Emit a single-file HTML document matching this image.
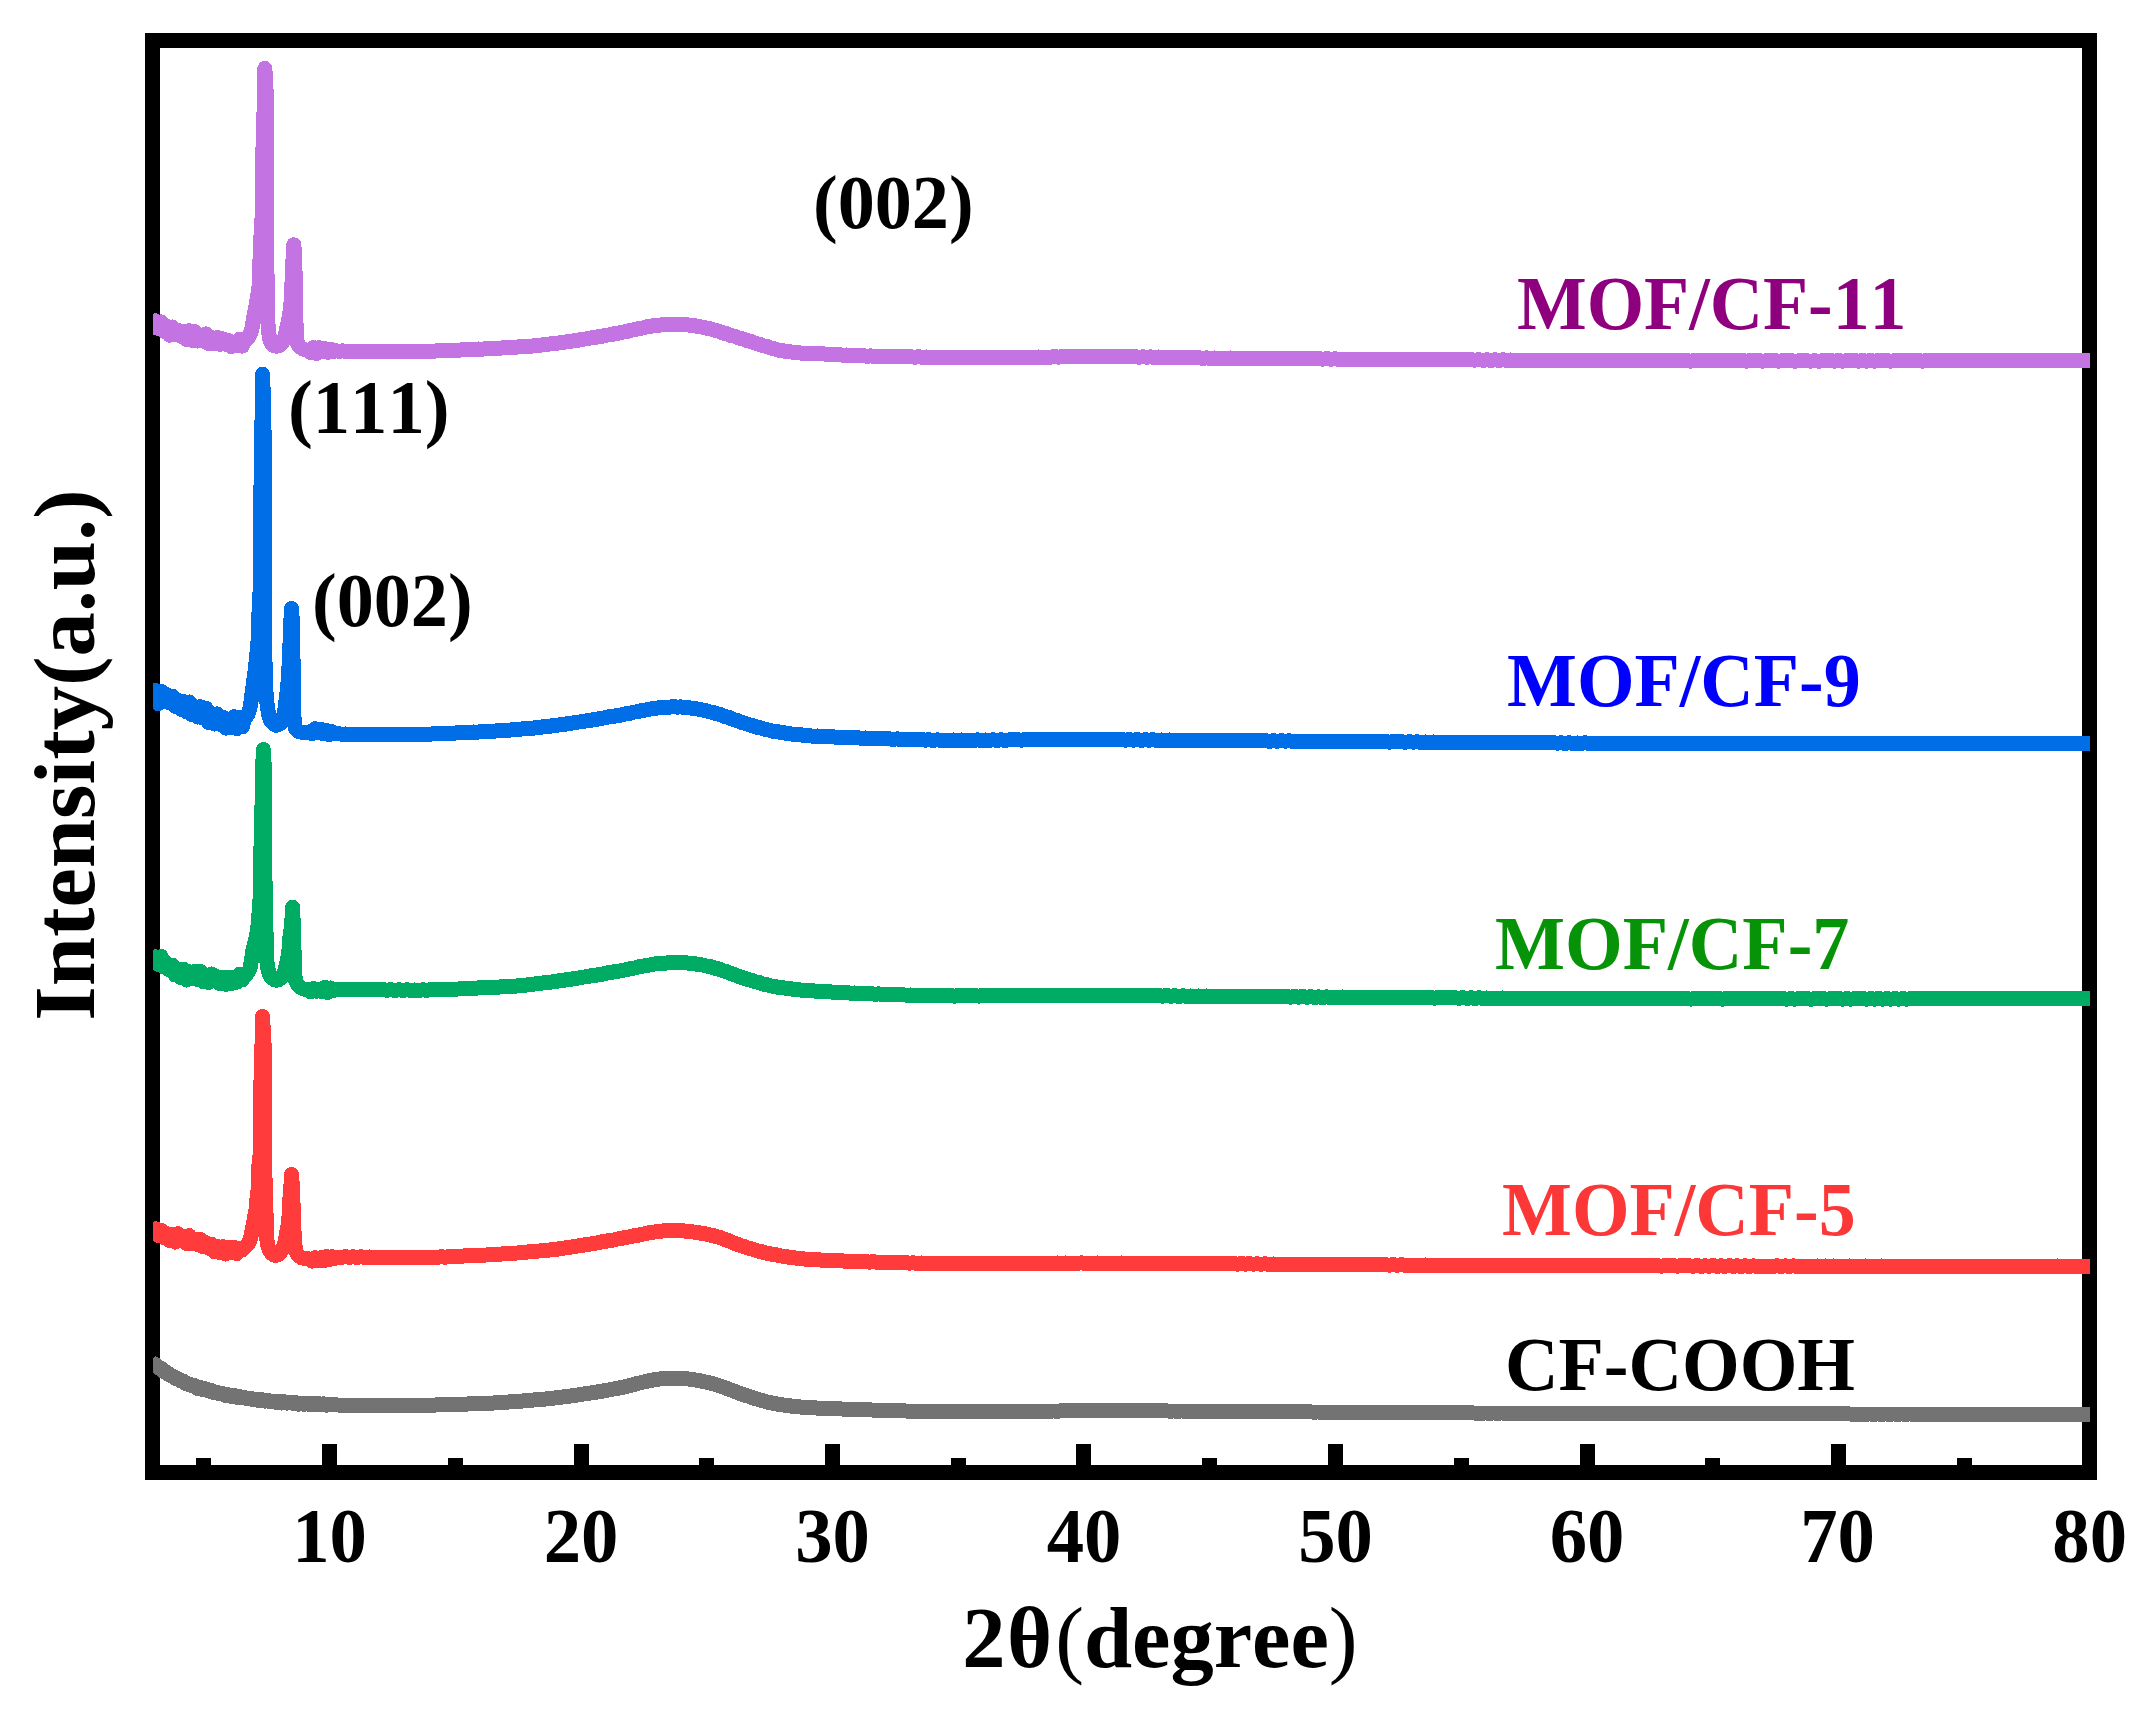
<!DOCTYPE html>
<html lang="en"><head><meta charset="utf-8"><title>XRD patterns</title>
<style>html,body{margin:0;padding:0;background:#fff}body{width:2146px;height:1709px;overflow:hidden}svg{display:block}</style></head>
<body>
<svg width="2146" height="1709" viewBox="0 0 2146 1709" role="img" aria-label="XRD patterns of CF-COOH and MOF/CF samples">
<defs><clipPath id="cp"><rect x="153" y="40" width="1937" height="1433"/></clipPath></defs>
<rect x="0" y="0" width="2146" height="1709" fill="#fff"/>
<rect x="152.5" y="40.5" width="1937" height="1432" fill="none" stroke="#000" stroke-width="15" shape-rendering="crispEdges"/>
<g fill="#000" shape-rendering="crispEdges"><rect x="322" y="1444" width="15" height="24"/><rect x="574" y="1444" width="15" height="24"/><rect x="825" y="1444" width="15" height="24"/><rect x="1076" y="1444" width="15" height="24"/><rect x="1328" y="1444" width="15" height="24"/><rect x="1580" y="1444" width="15" height="24"/><rect x="1831" y="1444" width="15" height="24"/><rect x="196" y="1458" width="15" height="10"/><rect x="448" y="1458" width="15" height="10"/><rect x="699" y="1458" width="15" height="10"/><rect x="951" y="1458" width="15" height="10"/><rect x="1202" y="1458" width="15" height="10"/><rect x="1454" y="1458" width="15" height="10"/><rect x="1705" y="1458" width="15" height="10"/><rect x="1957" y="1458" width="15" height="10"/></g>
<g clip-path="url(#cp)" fill="none" stroke-width="15" stroke-linejoin="round" stroke-linecap="butt" shape-rendering="crispEdges">
<path stroke="#737373" d="M150.0,1360.9 L152.8,1364.0 L155.6,1364.6 L158.4,1367.8 L161.2,1368.4 L164.0,1371.6 L166.8,1372.3 L169.6,1375.2 L172.4,1375.7 L175.2,1378.3 L178.0,1378.7 L180.8,1380.9 L183.6,1381.2 L186.4,1384.1 L189.2,1383.9 L192.0,1385.9 L194.8,1385.6 L197.6,1388.5 L200.4,1387.6 L203.2,1389.9 L206.0,1388.9 L208.8,1391.1 L211.6,1390.5 L214.4,1392.8 L217.2,1392.5 L220.0,1393.9 L222.8,1393.6 L225.6,1395.6 L228.4,1394.8 L231.2,1396.5 L234.0,1395.5 L236.8,1397.3 L239.6,1396.5 L242.4,1398.0 L245.2,1397.8 L248.0,1399.0 L250.8,1398.1 L253.6,1399.9 L256.4,1399.1 L259.2,1400.7 L262.0,1399.7 L264.8,1401.1 L267.6,1400.1 L270.4,1401.9 L273.2,1401.0 L276.0,1402.4 L278.8,1401.3 L281.6,1403.0 L284.4,1401.7 L287.2,1403.1 L290.0,1402.0 L292.8,1403.4 L295.6,1402.7 L298.4,1404.1 L301.2,1403.2 L304.0,1404.2 L306.8,1403.5 L309.6,1404.5 L312.4,1403.4 L315.2,1404.7 L318.0,1403.5 L320.8,1404.8 L323.6,1403.9 L326.4,1405.1 L329.2,1404.2 L332.0,1405.0 L334.8,1404.6 L337.6,1405.0 L341.6,1405.0 L345.6,1405.2 L349.6,1405.3 L353.6,1405.4 L357.6,1405.4 L361.6,1405.6 L365.6,1405.6 L369.6,1405.7 L373.6,1405.7 L377.6,1405.8 L381.6,1405.7 L385.6,1405.7 L389.6,1405.7 L393.6,1405.7 L397.6,1405.6 L401.6,1405.6 L405.6,1405.5 L409.6,1405.5 L413.6,1405.3 L417.6,1405.4 L421.6,1405.2 L425.6,1405.2 L429.6,1405.0 L433.6,1405.1 L437.6,1404.9 L441.6,1404.9 L445.6,1404.7 L449.6,1404.6 L453.6,1404.4 L457.6,1404.4 L461.6,1404.2 L465.6,1404.1 L469.6,1403.9 L473.6,1403.9 L477.6,1403.7 L481.6,1403.6 L485.6,1403.3 L489.6,1403.2 L493.6,1403.0 L497.6,1402.8 L501.6,1402.5 L505.6,1402.3 L509.6,1401.9 L513.6,1401.8 L517.6,1401.4 L521.6,1401.1 L525.6,1400.7 L529.6,1400.5 L533.6,1400.0 L537.6,1399.8 L541.6,1399.3 L545.6,1399.0 L549.6,1398.5 L553.6,1398.1 L557.6,1397.5 L561.6,1397.1 L565.6,1396.5 L569.6,1396.1 L573.6,1395.5 L577.6,1395.0 L581.6,1394.3 L585.6,1393.8 L589.6,1393.2 L593.6,1392.6 L597.6,1391.9 L601.6,1391.3 L605.6,1390.5 L609.6,1389.9 L613.6,1389.0 L617.6,1388.3 L621.6,1387.5 L625.6,1386.6 L629.6,1385.5 L633.6,1384.6 L637.6,1383.4 L641.6,1382.5 L645.6,1381.5 L649.6,1380.7 L653.6,1379.9 L657.6,1379.3 L661.6,1378.8 L665.6,1378.5 L669.6,1378.1 L673.6,1378.1 L677.6,1378.1 L681.6,1378.3 L685.6,1378.6 L689.6,1379.1 L693.6,1379.6 L697.6,1380.4 L701.6,1381.1 L705.6,1382.0 L709.6,1382.8 L713.6,1384.0 L717.6,1385.1 L721.6,1386.5 L725.6,1387.9 L729.6,1389.5 L733.6,1391.0 L737.6,1392.6 L741.6,1394.0 L745.6,1395.4 L749.6,1396.6 L753.6,1398.1 L757.6,1399.2 L761.6,1400.5 L765.6,1401.5 L769.6,1402.6 L773.6,1403.3 L777.6,1404.1 L781.6,1404.7 L785.6,1405.4 L789.6,1405.8 L793.6,1406.4 L797.6,1406.7 L801.6,1407.1 L805.6,1407.3 L809.6,1407.7 L813.6,1407.8 L817.6,1408.1 L821.6,1408.1 L825.6,1408.4 L829.6,1408.5 L833.6,1408.7 L837.6,1408.8 L841.6,1409.0 L845.6,1409.1 L849.6,1409.4 L853.6,1409.4 L857.6,1409.6 L861.6,1409.7 L865.6,1409.9 L869.6,1409.9 L873.6,1410.1 L877.6,1410.1 L881.6,1410.3 L885.6,1410.3 L889.6,1410.5 L893.6,1410.6 L897.6,1410.8 L901.6,1410.8 L905.6,1411.0 L909.6,1411.0 L913.6,1411.1 L917.6,1411.2 L921.6,1411.3 L925.6,1411.3 L929.6,1411.4 L933.6,1411.4 L937.6,1411.5 L941.6,1411.5 L945.6,1411.6 L949.6,1411.5 L953.6,1411.6 L957.6,1411.5 L961.6,1411.6 L965.6,1411.5 L969.6,1411.6 L973.6,1411.5 L977.6,1411.6 L981.6,1411.5 L985.6,1411.6 L989.6,1411.5 L993.6,1411.5 L997.6,1411.4 L1001.6,1411.5 L1005.6,1411.4 L1009.6,1411.4 L1013.6,1411.3 L1017.6,1411.4 L1021.6,1411.3 L1025.6,1411.3 L1029.6,1411.2 L1033.6,1411.2 L1037.6,1411.1 L1041.6,1411.2 L1045.6,1411.1 L1049.6,1411.1 L1053.6,1411.0 L1057.6,1411.1 L1061.6,1410.9 L1065.6,1411.0 L1069.6,1410.9 L1073.6,1410.9 L1077.6,1410.8 L1081.6,1410.9 L1085.6,1410.8 L1089.6,1410.8 L1093.6,1410.8 L1097.6,1410.8 L1101.6,1410.7 L1105.6,1410.8 L1109.6,1410.7 L1113.6,1410.8 L1117.6,1410.7 L1121.6,1410.8 L1125.6,1410.7 L1129.6,1410.9 L1133.6,1410.8 L1137.6,1410.9 L1141.6,1410.8 L1145.6,1410.9 L1149.6,1410.8 L1153.6,1411.0 L1157.6,1410.9 L1161.6,1411.0 L1165.6,1410.9 L1169.6,1411.1 L1173.6,1411.0 L1177.6,1411.1 L1181.6,1411.0 L1185.6,1411.2 L1189.6,1411.1 L1193.6,1411.2 L1197.6,1411.2 L1201.6,1411.3 L1205.6,1411.2 L1209.6,1411.3 L1213.6,1411.2 L1217.6,1411.4 L1221.6,1411.3 L1225.6,1411.4 L1229.6,1411.4 L1233.6,1411.5 L1237.6,1411.4 L1241.6,1411.5 L1245.6,1411.5 L1249.6,1411.6 L1253.6,1411.6 L1257.6,1411.7 L1261.6,1411.6 L1265.6,1411.7 L1269.6,1411.7 L1273.6,1411.8 L1277.6,1411.7 L1281.6,1411.8 L1285.6,1411.8 L1289.6,1411.9 L1293.6,1411.9 L1297.6,1412.0 L1301.6,1411.9 L1305.6,1412.0 L1309.6,1411.9 L1313.6,1412.1 L1317.6,1412.0 L1321.6,1412.1 L1325.6,1412.1 L1329.6,1412.2 L1333.6,1412.2 L1337.6,1412.2 L1341.6,1412.2 L1345.6,1412.3 L1349.6,1412.2 L1353.6,1412.4 L1357.6,1412.3 L1361.6,1412.4 L1365.6,1412.4 L1369.6,1412.5 L1373.6,1412.4 L1377.6,1412.5 L1381.6,1412.5 L1385.6,1412.6 L1389.6,1412.5 L1393.6,1412.6 L1397.6,1412.6 L1401.6,1412.7 L1405.6,1412.6 L1409.6,1412.7 L1413.6,1412.7 L1417.6,1412.8 L1421.6,1412.7 L1425.6,1412.8 L1429.6,1412.8 L1433.6,1412.9 L1437.6,1412.8 L1441.6,1412.9 L1445.6,1412.8 L1449.6,1412.9 L1453.6,1412.9 L1457.6,1413.0 L1461.6,1412.9 L1465.6,1413.0 L1469.6,1412.9 L1473.6,1413.0 L1477.6,1413.0 L1481.6,1413.1 L1485.6,1413.0 L1489.6,1413.1 L1493.6,1413.0 L1497.6,1413.1 L1501.6,1413.0 L1505.6,1413.1 L1509.6,1413.1 L1513.6,1413.1 L1517.6,1413.1 L1521.6,1413.2 L1525.6,1413.1 L1529.6,1413.2 L1533.6,1413.2 L1537.6,1413.2 L1541.6,1413.2 L1545.6,1413.2 L1549.6,1413.2 L1553.6,1413.3 L1557.6,1413.2 L1561.6,1413.3 L1565.6,1413.2 L1569.6,1413.3 L1573.6,1413.3 L1577.6,1413.3 L1581.6,1413.3 L1585.6,1413.4 L1589.6,1413.3 L1593.6,1413.4 L1597.6,1413.3 L1601.6,1413.4 L1605.6,1413.3 L1609.6,1413.4 L1613.6,1413.4 L1617.6,1413.5 L1621.6,1413.4 L1625.6,1413.5 L1629.6,1413.4 L1633.6,1413.5 L1637.6,1413.5 L1641.6,1413.5 L1645.6,1413.5 L1649.6,1413.6 L1653.6,1413.5 L1657.6,1413.6 L1661.6,1413.5 L1665.6,1413.6 L1669.6,1413.6 L1673.6,1413.6 L1677.6,1413.6 L1681.6,1413.6 L1685.6,1413.6 L1689.6,1413.7 L1693.6,1413.6 L1697.6,1413.7 L1701.6,1413.6 L1705.6,1413.7 L1709.6,1413.7 L1713.6,1413.7 L1717.6,1413.7 L1721.6,1413.7 L1725.6,1413.7 L1729.6,1413.8 L1733.6,1413.7 L1737.6,1413.8 L1741.6,1413.7 L1745.6,1413.8 L1749.6,1413.8 L1753.6,1413.8 L1757.6,1413.8 L1761.6,1413.8 L1765.6,1413.8 L1769.6,1413.9 L1773.6,1413.8 L1777.6,1413.9 L1781.6,1413.8 L1785.6,1413.9 L1789.6,1413.9 L1793.6,1413.9 L1797.6,1413.9 L1801.6,1413.9 L1805.6,1413.9 L1809.6,1413.9 L1813.6,1413.9 L1817.6,1414.0 L1821.6,1413.9 L1825.6,1414.0 L1829.6,1413.9 L1833.6,1414.0 L1837.6,1413.9 L1841.6,1414.0 L1845.6,1413.9 L1849.6,1414.0 L1853.6,1414.0 L1857.6,1414.0 L1861.6,1414.0 L1865.6,1414.1 L1869.6,1414.0 L1873.6,1414.1 L1877.6,1414.0 L1881.6,1414.1 L1885.6,1414.0 L1889.6,1414.1 L1893.6,1414.0 L1897.6,1414.1 L1901.6,1414.0 L1905.6,1414.1 L1909.6,1414.0 L1913.6,1414.1 L1917.6,1414.1 L1921.6,1414.1 L1925.6,1414.1 L1929.6,1414.1 L1933.6,1414.1 L1937.6,1414.2 L1941.6,1414.1 L1945.6,1414.2 L1949.6,1414.1 L1953.6,1414.2 L1957.6,1414.1 L1961.6,1414.2 L1965.6,1414.1 L1969.6,1414.2 L1973.6,1414.1 L1977.6,1414.2 L1981.6,1414.1 L1985.6,1414.2 L1989.6,1414.1 L1993.6,1414.2 L1997.6,1414.1 L2001.6,1414.2 L2005.6,1414.2 L2009.6,1414.2 L2013.6,1414.1 L2017.6,1414.2 L2021.6,1414.1 L2025.6,1414.2 L2029.6,1414.2 L2033.6,1414.2 L2037.6,1414.2 L2041.6,1414.2 L2045.6,1414.2 L2049.6,1414.2 L2053.6,1414.2 L2057.6,1414.2 L2061.6,1414.2 L2065.6,1414.2 L2069.6,1414.2 L2073.6,1414.2 L2077.6,1414.2 L2081.6,1414.2 L2085.6,1414.2 L2089.6,1414.2 L2093.6,1414.2 L2095.0,1414.2"/>
<path stroke="#FF3B3B" d="M150.0,1225.2 L152.8,1233.8 L155.6,1228.8 L158.4,1235.5 L161.2,1230.5 L164.0,1237.6 L166.8,1233.7 L169.6,1240.6 L172.4,1234.9 L175.2,1242.1 L178.0,1233.7 L180.8,1240.1 L183.6,1236.3 L186.4,1243.6 L189.2,1235.6 L192.0,1243.5 L194.8,1239.3 L197.6,1244.6 L200.4,1239.5 L203.2,1246.8 L206.0,1242.6 L208.8,1248.2 L211.6,1244.2 L214.4,1251.9 L217.2,1246.6 L220.0,1252.6 L222.8,1246.7 L225.6,1254.0 L228.4,1247.3 L231.2,1253.0 L234.0,1247.5 L236.8,1253.7 L239.6,1248.6 L242.4,1250.0 L244.0,1248.0 L246.0,1246.3 L247.7,1244.4 L248.9,1242.3 L249.9,1239.9 L250.7,1237.4 L251.2,1235.0 L251.7,1232.5 L252.1,1229.9 L252.6,1227.4 L253.1,1224.9 L253.6,1222.4 L254.1,1219.9 L254.6,1217.4 L255.0,1214.9 L255.5,1212.4 L255.9,1209.9 L256.2,1207.4 L256.4,1204.8 L256.6,1202.3 L256.9,1199.7 L257.1,1197.2 L257.4,1194.7 L257.8,1192.1 L258.2,1189.6 L258.3,1187.1 L258.4,1184.5 L258.5,1182.0 L258.6,1179.4 L258.6,1176.9 L258.7,1174.3 L258.7,1171.8 L258.8,1169.2 L258.9,1166.7 L259.0,1164.2 L259.2,1161.6 L259.6,1159.1 L259.9,1156.5 L260.1,1154.0 L260.2,1151.5 L260.3,1148.9 L260.3,1146.4 L260.4,1143.8 L260.5,1141.3 L260.5,1138.7 L260.6,1136.2 L260.6,1133.6 L260.6,1131.1 L260.6,1128.5 L260.6,1126.0 L260.6,1123.4 L260.6,1120.9 L260.6,1118.3 L260.6,1115.8 L260.6,1113.2 L260.6,1110.7 L260.6,1108.1 L260.6,1105.6 L260.6,1103.0 L260.6,1100.5 L260.6,1097.9 L260.6,1095.4 L260.6,1092.8 L260.7,1090.3 L260.7,1087.7 L260.8,1085.2 L260.9,1082.7 L261.0,1080.1 L261.1,1077.6 L261.1,1075.0 L261.2,1072.5 L261.3,1069.9 L261.4,1067.4 L261.5,1064.8 L261.5,1062.3 L261.6,1059.7 L261.7,1057.2 L261.7,1054.6 L261.8,1052.1 L261.9,1049.5 L261.9,1047.0 L262.0,1044.4 L262.1,1041.9 L262.1,1039.3 L262.2,1036.8 L262.2,1034.2 L262.3,1031.7 L262.3,1029.1 L262.4,1026.6 L262.4,1024.0 L262.4,1021.5 L262.5,1018.9 L262.5,1016.4 L262.7,1018.9 L262.8,1021.4 L262.9,1023.9 L263.1,1026.5 L263.2,1029.0 L263.4,1031.5 L263.5,1034.0 L263.7,1036.5 L263.8,1039.1 L263.9,1041.6 L264.1,1044.1 L264.2,1046.6 L264.2,1049.1 L264.3,1051.6 L264.3,1054.2 L264.3,1056.7 L264.3,1059.2 L264.3,1061.7 L264.3,1064.2 L264.3,1066.8 L264.3,1069.3 L264.3,1071.8 L264.3,1074.3 L264.3,1076.8 L264.3,1079.4 L264.3,1081.9 L264.3,1084.4 L264.4,1086.9 L264.4,1089.4 L264.4,1092.0 L264.4,1094.5 L264.4,1097.0 L264.4,1099.5 L264.4,1102.0 L264.4,1104.6 L264.4,1107.1 L264.4,1109.6 L264.4,1112.1 L264.4,1114.7 L264.4,1117.2 L264.4,1119.7 L264.4,1122.2 L264.4,1124.7 L264.4,1127.3 L264.4,1129.8 L264.4,1132.3 L264.4,1134.8 L264.4,1137.3 L264.4,1139.9 L264.5,1142.4 L264.5,1144.9 L264.5,1147.4 L264.5,1149.9 L264.6,1152.5 L264.6,1155.0 L264.6,1157.5 L264.7,1160.0 L264.7,1162.5 L264.7,1165.1 L264.8,1167.6 L264.8,1170.1 L264.9,1172.6 L264.9,1175.1 L265.0,1177.7 L265.0,1180.2 L265.1,1182.7 L265.1,1185.2 L265.2,1187.7 L265.2,1190.3 L265.3,1192.8 L265.3,1195.3 L265.4,1197.8 L265.5,1200.3 L265.6,1202.9 L265.7,1205.4 L265.8,1207.9 L265.9,1210.4 L266.0,1212.9 L266.0,1215.4 L266.1,1218.0 L266.2,1220.5 L266.2,1223.0 L266.3,1225.5 L266.3,1228.1 L266.4,1230.6 L266.5,1233.1 L266.6,1235.6 L266.7,1238.1 L267.0,1240.6 L267.3,1243.1 L267.9,1245.6 L268.7,1248.0 L269.7,1250.3 L271.0,1252.5 L272.8,1254.2 L275.1,1255.5 L277.5,1254.9 L279.6,1253.5 L281.1,1251.5 L282.4,1249.2 L283.4,1247.0 L284.3,1244.6 L285.0,1242.1 L285.5,1239.7 L286.0,1237.2 L286.4,1234.7 L286.8,1232.2 L287.2,1229.7 L287.7,1227.3 L288.1,1224.8 L288.4,1222.3 L288.7,1219.8 L288.9,1217.3 L289.1,1214.8 L289.2,1212.2 L289.3,1209.7 L289.4,1207.2 L289.6,1204.7 L289.7,1202.2 L289.8,1199.6 L290.0,1197.1 L290.2,1194.6 L290.4,1192.1 L290.6,1189.6 L290.8,1187.1 L291.0,1184.6 L291.2,1182.0 L291.4,1179.5 L291.5,1177.0 L291.6,1174.5 L291.8,1177.1 L291.9,1179.7 L292.1,1182.3 L292.2,1184.8 L292.3,1187.4 L292.5,1190.0 L292.6,1192.6 L292.7,1195.2 L292.8,1197.8 L292.9,1200.4 L293.0,1203.0 L293.1,1205.6 L293.2,1208.1 L293.3,1210.7 L293.4,1213.3 L293.5,1215.9 L293.6,1218.5 L293.6,1221.1 L293.7,1223.7 L293.8,1226.3 L293.9,1228.9 L294.0,1231.5 L294.2,1234.0 L294.3,1236.6 L294.5,1239.2 L294.7,1241.8 L294.9,1244.4 L295.2,1247.0 L295.7,1249.6 L296.3,1252.0 L297.6,1254.4 L299.3,1256.3 L301.5,1257.7 L304.0,1258.4 L306.5,1258.7 L309.2,1258.8 L312.0,1261.1 L314.8,1257.7 L317.6,1260.7 L320.4,1257.8 L323.2,1261.0 L326.0,1256.5 L328.8,1259.8 L331.6,1256.8 L334.4,1258.4 L337.2,1257.1 L341.2,1257.3 L345.2,1256.8 L349.2,1257.2 L353.2,1256.9 L357.2,1257.2 L361.2,1256.9 L365.2,1257.4 L369.2,1257.0 L373.2,1257.4 L377.2,1257.1 L381.2,1257.5 L385.2,1257.3 L389.2,1257.5 L393.2,1257.3 L397.2,1257.6 L401.2,1257.3 L405.2,1257.7 L409.2,1257.5 L413.2,1257.7 L417.2,1257.5 L421.2,1257.7 L425.2,1257.2 L429.2,1257.6 L433.2,1257.1 L437.2,1257.4 L441.2,1256.8 L445.2,1257.2 L449.2,1256.6 L453.2,1256.8 L457.2,1256.3 L461.2,1256.4 L465.2,1255.8 L469.2,1256.0 L473.2,1255.4 L477.2,1255.5 L481.2,1255.0 L485.2,1255.1 L489.2,1254.6 L493.2,1254.6 L497.2,1254.1 L501.2,1254.1 L505.2,1253.5 L509.2,1253.7 L513.2,1253.0 L517.2,1253.0 L521.2,1252.4 L525.2,1252.4 L529.2,1251.7 L533.2,1251.6 L537.2,1251.1 L541.2,1250.9 L545.2,1250.1 L549.2,1250.1 L553.2,1249.3 L557.2,1249.2 L561.2,1248.2 L565.2,1248.0 L569.2,1247.2 L573.2,1246.9 L577.2,1246.0 L581.2,1245.7 L585.2,1244.8 L589.2,1244.3 L593.2,1243.4 L597.2,1243.0 L601.2,1241.9 L605.2,1241.6 L609.2,1240.5 L613.2,1240.1 L617.2,1239.0 L621.2,1238.5 L625.2,1237.5 L629.2,1236.9 L633.2,1235.9 L637.2,1235.4 L641.2,1234.3 L645.2,1233.7 L649.2,1232.6 L653.2,1232.3 L657.2,1231.4 L661.2,1231.2 L665.2,1230.5 L669.2,1230.5 L673.2,1230.1 L677.2,1230.5 L681.2,1230.3 L685.2,1231.1 L689.2,1231.3 L693.2,1232.0 L697.2,1232.3 L701.2,1233.4 L705.2,1233.7 L709.2,1234.9 L713.2,1235.6 L717.2,1236.9 L721.2,1237.8 L725.2,1239.7 L729.2,1240.8 L733.2,1242.9 L737.2,1244.1 L741.2,1245.8 L745.2,1246.9 L749.2,1248.4 L753.2,1249.3 L757.2,1250.9 L761.2,1251.5 L765.2,1252.9 L769.2,1253.5 L773.2,1254.6 L777.2,1255.0 L781.2,1256.0 L785.2,1256.3 L789.2,1257.3 L793.2,1257.5 L797.2,1258.4 L801.2,1258.5 L805.2,1259.1 L809.2,1259.2 L813.2,1259.8 L817.2,1259.6 L821.2,1260.1 L825.2,1260.1 L829.2,1260.5 L833.2,1260.3 L837.2,1260.8 L841.2,1260.7 L845.2,1261.2 L849.2,1261.1 L853.2,1261.5 L857.2,1261.3 L861.2,1261.8 L865.2,1261.5 L869.2,1262.1 L873.2,1261.8 L877.2,1262.2 L881.2,1262.1 L885.2,1262.5 L889.2,1262.2 L893.2,1262.7 L897.2,1262.6 L901.2,1262.9 L905.2,1262.7 L909.2,1263.1 L913.2,1262.9 L917.2,1263.4 L921.2,1263.0 L925.2,1263.4 L929.2,1263.3 L933.2,1263.6 L937.2,1263.3 L941.2,1263.7 L945.2,1263.4 L949.2,1263.8 L953.2,1263.4 L957.2,1263.7 L961.2,1263.5 L965.2,1263.8 L969.2,1263.5 L973.2,1263.8 L977.2,1263.5 L981.2,1263.7 L985.2,1263.4 L989.2,1263.7 L993.2,1263.3 L997.2,1263.7 L1001.2,1263.4 L1005.2,1263.6 L1009.2,1263.4 L1013.2,1263.7 L1017.2,1263.2 L1021.2,1263.6 L1025.2,1263.3 L1029.2,1263.5 L1033.2,1263.1 L1037.2,1263.5 L1041.2,1263.3 L1045.2,1263.4 L1049.2,1263.2 L1053.2,1263.5 L1057.2,1263.0 L1061.2,1263.5 L1065.2,1263.0 L1069.2,1263.5 L1073.2,1263.1 L1077.2,1263.3 L1081.2,1262.9 L1085.2,1263.4 L1089.2,1263.1 L1093.2,1263.3 L1097.2,1263.0 L1101.2,1263.3 L1105.2,1263.0 L1109.2,1263.2 L1113.2,1263.1 L1117.2,1263.3 L1121.2,1263.0 L1125.2,1263.4 L1129.2,1263.1 L1133.2,1263.5 L1137.2,1263.1 L1141.2,1263.4 L1145.2,1263.1 L1149.2,1263.5 L1153.2,1263.2 L1157.2,1263.4 L1161.2,1263.2 L1165.2,1263.5 L1169.2,1263.2 L1173.2,1263.6 L1177.2,1263.3 L1181.2,1263.7 L1185.2,1263.4 L1189.2,1263.7 L1193.2,1263.4 L1197.2,1263.8 L1201.2,1263.5 L1205.2,1263.7 L1209.2,1263.6 L1213.2,1263.9 L1217.2,1263.6 L1221.2,1264.0 L1225.2,1263.6 L1229.2,1264.0 L1233.2,1263.7 L1237.2,1264.1 L1241.2,1263.7 L1245.2,1264.1 L1249.2,1263.8 L1253.2,1264.1 L1257.2,1263.9 L1261.2,1264.1 L1265.2,1263.9 L1269.2,1264.3 L1273.2,1264.0 L1277.2,1264.4 L1281.2,1264.1 L1285.2,1264.3 L1289.2,1264.1 L1293.2,1264.5 L1297.2,1264.1 L1301.2,1264.5 L1305.2,1264.3 L1309.2,1264.6 L1313.2,1264.3 L1317.2,1264.7 L1321.2,1264.4 L1325.2,1264.7 L1329.2,1264.4 L1333.2,1264.8 L1337.2,1264.4 L1341.2,1264.8 L1345.2,1264.5 L1349.2,1264.8 L1353.2,1264.6 L1357.2,1265.0 L1361.2,1264.7 L1365.2,1264.9 L1369.2,1264.6 L1373.2,1265.0 L1377.2,1264.8 L1381.2,1265.0 L1385.2,1264.8 L1389.2,1265.1 L1393.2,1264.7 L1397.2,1265.2 L1401.2,1264.8 L1405.2,1265.2 L1409.2,1265.0 L1413.2,1265.2 L1417.2,1265.0 L1421.2,1265.3 L1425.2,1265.0 L1429.2,1265.3 L1433.2,1265.1 L1437.2,1265.4 L1441.2,1265.1 L1445.2,1265.5 L1449.2,1265.1 L1453.2,1265.5 L1457.2,1265.2 L1461.2,1265.5 L1465.2,1265.2 L1469.2,1265.5 L1473.2,1265.2 L1477.2,1265.6 L1481.2,1265.3 L1485.2,1265.5 L1489.2,1265.3 L1493.2,1265.5 L1497.2,1265.2 L1501.2,1265.6 L1505.2,1265.4 L1509.2,1265.6 L1513.2,1265.3 L1517.2,1265.7 L1521.2,1265.4 L1525.2,1265.7 L1529.2,1265.4 L1533.2,1265.8 L1537.2,1265.5 L1541.2,1265.7 L1545.2,1265.4 L1549.2,1265.8 L1553.2,1265.4 L1557.2,1265.7 L1561.2,1265.5 L1565.2,1265.7 L1569.2,1265.6 L1573.2,1265.9 L1577.2,1265.5 L1581.2,1265.9 L1585.2,1265.6 L1589.2,1265.9 L1593.2,1265.6 L1597.2,1265.9 L1601.2,1265.6 L1605.2,1266.0 L1609.2,1265.7 L1613.2,1266.0 L1617.2,1265.6 L1621.2,1265.9 L1625.2,1265.7 L1629.2,1265.9 L1633.2,1265.7 L1637.2,1266.0 L1641.2,1265.7 L1645.2,1266.0 L1649.2,1265.8 L1653.2,1266.0 L1657.2,1265.8 L1661.2,1266.1 L1665.2,1265.8 L1669.2,1266.0 L1673.2,1265.8 L1677.2,1266.1 L1681.2,1265.8 L1685.2,1266.0 L1689.2,1265.9 L1693.2,1266.1 L1697.2,1265.8 L1701.2,1266.2 L1705.2,1265.9 L1709.2,1266.1 L1713.2,1265.8 L1717.2,1266.2 L1721.2,1265.9 L1725.2,1266.2 L1729.2,1265.8 L1733.2,1266.2 L1737.2,1265.9 L1741.2,1266.2 L1745.2,1265.9 L1749.2,1266.3 L1753.2,1265.9 L1757.2,1266.2 L1761.2,1266.0 L1765.2,1266.3 L1769.2,1266.0 L1773.2,1266.2 L1777.2,1265.9 L1781.2,1266.3 L1785.2,1265.9 L1789.2,1266.3 L1793.2,1265.9 L1797.2,1266.3 L1801.2,1266.1 L1805.2,1266.2 L1809.2,1266.0 L1813.2,1266.3 L1817.2,1266.0 L1821.2,1266.3 L1825.2,1266.0 L1829.2,1266.3 L1833.2,1266.0 L1837.2,1266.3 L1841.2,1266.1 L1845.2,1266.4 L1849.2,1266.0 L1853.2,1266.3 L1857.2,1266.1 L1861.2,1266.4 L1865.2,1266.0 L1869.2,1266.3 L1873.2,1266.1 L1877.2,1266.5 L1881.2,1266.0 L1885.2,1266.4 L1889.2,1266.2 L1893.2,1266.5 L1897.2,1266.1 L1901.2,1266.5 L1905.2,1266.1 L1909.2,1266.5 L1913.2,1266.2 L1917.2,1266.5 L1921.2,1266.2 L1925.2,1266.4 L1929.2,1266.1 L1933.2,1266.5 L1937.2,1266.2 L1941.2,1266.4 L1945.2,1266.1 L1949.2,1266.4 L1953.2,1266.1 L1957.2,1266.4 L1961.2,1266.2 L1965.2,1266.5 L1969.2,1266.1 L1973.2,1266.3 L1977.2,1266.1 L1981.2,1266.5 L1985.2,1266.2 L1989.2,1266.5 L1993.2,1266.2 L1997.2,1266.4 L2001.2,1266.1 L2005.2,1266.4 L2009.2,1266.1 L2013.2,1266.4 L2017.2,1266.1 L2021.2,1266.4 L2025.2,1266.1 L2029.2,1266.4 L2033.2,1266.1 L2037.2,1266.3 L2041.2,1266.1 L2045.2,1266.4 L2049.2,1266.1 L2053.2,1266.4 L2057.2,1266.0 L2061.2,1266.4 L2065.2,1266.1 L2069.2,1266.4 L2073.2,1266.1 L2077.2,1266.3 L2081.2,1266.1 L2085.2,1266.3 L2089.2,1266.1 L2093.2,1266.4 L2095.0,1266.2"/>
<path stroke="#00AB63" d="M150.0,955.2 L152.8,962.0 L155.6,956.9 L158.4,964.3 L161.2,956.6 L164.0,967.1 L166.8,963.3 L169.6,970.2 L172.4,965.2 L175.2,975.0 L178.0,969.3 L180.8,977.7 L183.6,969.2 L186.4,980.0 L189.2,971.9 L192.0,978.9 L194.8,971.4 L197.6,979.7 L200.4,971.5 L203.2,981.7 L206.0,975.4 L208.8,982.5 L211.6,974.0 L214.4,981.0 L217.2,976.8 L220.0,983.8 L222.8,977.7 L225.6,984.3 L228.4,977.2 L231.2,983.7 L234.0,977.4 L236.8,982.1 L239.6,974.1 L242.4,979.8 L243.0,977.5 L245.0,975.8 L246.7,973.9 L248.1,971.9 L249.4,969.6 L250.2,967.3 L250.7,964.8 L251.1,962.3 L251.5,959.7 L251.9,957.2 L252.3,954.7 L252.6,952.2 L253.1,949.7 L253.7,947.2 L254.4,944.8 L255.0,942.3 L255.6,939.8 L256.1,937.3 L256.6,934.8 L257.0,932.3 L257.4,929.8 L257.8,927.3 L258.2,924.8 L258.4,922.3 L258.6,919.7 L258.8,917.2 L258.9,914.7 L259.1,912.1 L259.3,909.6 L259.5,907.0 L259.7,904.5 L259.9,902.0 L260.0,899.4 L260.1,896.9 L260.2,894.4 L260.2,891.8 L260.3,889.3 L260.3,886.7 L260.3,884.2 L260.4,881.7 L260.4,879.1 L260.4,876.6 L260.4,874.0 L260.4,871.5 L260.5,868.9 L260.5,866.4 L260.5,863.9 L260.6,861.3 L260.6,858.8 L260.7,856.2 L260.7,853.7 L260.8,851.1 L260.9,848.6 L261.0,846.1 L261.1,843.5 L261.2,841.0 L261.3,838.4 L261.3,835.9 L261.4,833.4 L261.5,830.8 L261.6,828.3 L261.7,825.7 L261.7,823.2 L261.8,820.7 L261.8,818.1 L261.8,815.6 L261.9,813.0 L261.9,810.5 L261.9,807.9 L262.0,805.4 L262.0,802.9 L262.0,800.3 L262.1,797.8 L262.1,795.2 L262.1,792.7 L262.1,790.1 L262.2,787.6 L262.2,785.1 L262.3,782.5 L262.3,780.0 L262.3,777.4 L262.4,774.9 L262.4,772.4 L262.5,769.8 L262.6,767.3 L262.7,764.7 L262.8,762.2 L263.0,759.7 L263.1,757.1 L263.2,754.6 L263.3,752.0 L263.4,749.5 L263.6,752.0 L263.8,754.6 L263.9,757.1 L263.9,759.6 L264.0,762.2 L264.0,764.7 L264.1,767.2 L264.1,769.8 L264.1,772.3 L264.1,774.8 L264.2,777.4 L264.2,779.9 L264.2,782.5 L264.2,785.0 L264.2,787.5 L264.3,790.1 L264.3,792.6 L264.3,795.1 L264.3,797.7 L264.3,800.2 L264.3,802.7 L264.3,805.3 L264.3,807.8 L264.3,810.4 L264.3,812.9 L264.3,815.4 L264.3,818.0 L264.3,820.5 L264.3,823.0 L264.3,825.6 L264.3,828.1 L264.3,830.6 L264.3,833.2 L264.4,835.7 L264.4,838.3 L264.4,840.8 L264.4,843.3 L264.4,845.9 L264.4,848.4 L264.4,850.9 L264.4,853.5 L264.4,856.0 L264.4,858.5 L264.4,861.1 L264.4,863.6 L264.5,866.1 L264.5,868.7 L264.6,871.2 L264.7,873.8 L264.8,876.3 L264.9,878.8 L265.0,881.4 L265.1,883.9 L265.1,886.4 L265.2,889.0 L265.3,891.5 L265.3,894.0 L265.4,896.6 L265.4,899.1 L265.4,901.6 L265.5,904.2 L265.5,906.7 L265.6,909.3 L265.6,911.8 L265.7,914.3 L265.7,916.9 L265.8,919.4 L265.8,921.9 L265.8,924.5 L265.9,927.0 L265.9,929.5 L266.0,932.1 L266.1,934.6 L266.1,937.1 L266.2,939.7 L266.2,942.2 L266.3,944.8 L266.3,947.3 L266.4,949.8 L266.5,952.4 L266.6,954.9 L266.7,957.4 L266.8,960.0 L267.0,962.5 L267.4,965.0 L267.7,967.5 L268.2,970.0 L268.8,972.5 L269.8,974.9 L271.2,977.1 L272.9,978.8 L275.3,980.1 L277.7,980.1 L280.0,978.8 L281.8,977.2 L283.2,975.0 L284.3,972.6 L285.1,970.2 L285.7,967.7 L286.2,965.2 L286.8,962.7 L287.3,960.3 L287.8,957.8 L288.2,955.3 L288.6,952.8 L288.9,950.2 L289.1,947.7 L289.3,945.2 L289.5,942.7 L289.7,940.1 L289.9,937.6 L290.2,935.1 L290.6,932.6 L290.9,930.1 L291.2,927.5 L291.4,925.0 L291.6,922.5 L291.9,920.0 L292.1,917.4 L292.2,914.9 L292.4,912.4 L292.5,909.8 L292.6,907.3 L292.7,909.9 L292.8,912.6 L292.9,915.2 L293.0,917.9 L293.2,920.5 L293.2,923.1 L293.3,925.8 L293.4,928.4 L293.5,931.0 L293.6,933.7 L293.6,936.3 L293.7,939.0 L293.8,941.6 L293.8,944.2 L293.9,946.9 L294.0,949.5 L294.0,952.2 L294.1,954.8 L294.2,957.4 L294.2,960.1 L294.3,962.7 L294.4,965.4 L294.4,968.0 L294.5,970.6 L294.7,973.3 L294.9,975.9 L295.2,978.6 L295.8,981.1 L297.0,983.5 L298.5,985.7 L300.5,987.6 L302.7,988.7 L305.2,989.3 L308.0,989.5 L310.8,992.0 L313.6,988.4 L316.4,991.3 L319.2,989.0 L322.0,991.6 L324.8,987.3 L327.6,992.5 L330.4,988.0 L333.2,990.6 L336.0,989.5 L338.8,990.0 L342.8,989.6 L346.8,989.9 L350.8,989.6 L354.8,989.9 L358.8,989.5 L362.8,989.9 L366.8,989.5 L370.8,989.9 L374.8,989.6 L378.8,990.0 L382.8,989.7 L386.8,990.2 L390.8,989.8 L394.8,990.3 L398.8,989.9 L402.8,990.2 L406.8,989.9 L410.8,990.2 L414.8,990.0 L418.8,990.3 L422.8,989.9 L426.8,990.2 L430.8,989.8 L434.8,990.0 L438.8,989.4 L442.8,989.7 L446.8,989.2 L450.8,989.4 L454.8,989.1 L458.8,989.0 L462.8,988.7 L466.8,988.8 L470.8,988.3 L474.8,988.4 L478.8,987.8 L482.8,988.0 L486.8,987.6 L490.8,987.7 L494.8,987.2 L498.8,987.1 L502.8,986.7 L506.8,986.7 L510.8,986.2 L514.8,986.2 L518.8,985.6 L522.8,985.6 L526.8,984.9 L530.8,984.8 L534.8,984.0 L538.8,983.8 L542.8,983.0 L546.8,982.8 L550.8,982.1 L554.8,981.7 L558.8,980.8 L562.8,980.6 L566.8,979.6 L570.8,979.3 L574.8,978.4 L578.8,978.0 L582.8,977.1 L586.8,976.8 L590.8,975.8 L594.8,975.5 L598.8,974.4 L602.8,974.2 L606.8,973.0 L610.8,972.7 L614.8,971.6 L618.8,971.2 L622.8,970.2 L626.8,969.7 L630.8,968.6 L634.8,968.0 L638.8,966.8 L642.8,966.2 L646.8,965.2 L650.8,964.9 L654.8,963.9 L658.8,963.6 L662.8,963.0 L666.8,963.0 L670.8,962.4 L674.8,962.7 L678.8,962.4 L682.8,962.9 L686.8,962.9 L690.8,963.5 L694.8,963.7 L698.8,964.8 L702.8,965.0 L706.8,966.1 L710.8,966.7 L714.8,968.2 L718.8,969.0 L722.8,970.7 L726.8,971.7 L730.8,973.5 L734.8,974.8 L738.8,976.5 L742.8,977.7 L746.8,979.2 L750.8,980.1 L754.8,981.7 L758.8,982.5 L762.8,984.0 L766.8,984.7 L770.8,985.9 L774.8,986.3 L778.8,987.4 L782.8,987.6 L786.8,988.5 L790.8,988.7 L794.8,989.6 L798.8,989.7 L802.8,990.4 L806.8,990.4 L810.8,990.9 L814.8,991.0 L818.8,991.5 L822.8,991.3 L826.8,992.0 L830.8,991.9 L834.8,992.4 L838.8,992.3 L842.8,992.8 L846.8,992.6 L850.8,993.2 L854.8,993.0 L858.8,993.6 L862.8,993.3 L866.8,993.9 L870.8,993.7 L874.8,994.2 L878.8,993.9 L882.8,994.5 L886.8,994.2 L890.8,994.8 L894.8,994.6 L898.8,995.0 L902.8,994.8 L906.8,995.2 L910.8,995.0 L914.8,995.5 L918.8,995.4 L922.8,995.6 L926.8,995.4 L930.8,995.8 L934.8,995.6 L938.8,995.9 L942.8,995.7 L946.8,996.0 L950.8,995.7 L954.8,996.1 L958.8,995.7 L962.8,996.0 L966.8,995.7 L970.8,996.0 L974.8,995.6 L978.8,996.1 L982.8,995.6 L986.8,995.9 L990.8,995.6 L994.8,996.0 L998.8,995.5 L1002.8,995.8 L1006.8,995.6 L1010.8,995.8 L1014.8,995.5 L1018.8,995.8 L1022.8,995.4 L1026.8,995.7 L1030.8,995.3 L1034.8,995.7 L1038.8,995.3 L1042.8,995.5 L1046.8,995.3 L1050.8,995.6 L1054.8,995.3 L1058.8,995.5 L1062.8,995.2 L1066.8,995.4 L1070.8,995.2 L1074.8,995.4 L1078.8,995.1 L1082.8,995.5 L1086.8,995.2 L1090.8,995.6 L1094.8,995.2 L1098.8,995.6 L1102.8,995.2 L1106.8,995.5 L1110.8,995.3 L1114.8,995.7 L1118.8,995.3 L1122.8,995.7 L1126.8,995.4 L1130.8,995.8 L1134.8,995.6 L1138.8,995.9 L1142.8,995.7 L1146.8,996.0 L1150.8,995.7 L1154.8,995.9 L1158.8,995.8 L1162.8,996.1 L1166.8,995.7 L1170.8,996.1 L1174.8,995.9 L1178.8,996.2 L1182.8,995.9 L1186.8,996.2 L1190.8,996.0 L1194.8,996.3 L1198.8,996.0 L1202.8,996.4 L1206.8,996.0 L1210.8,996.4 L1214.8,996.2 L1218.8,996.6 L1222.8,996.2 L1226.8,996.5 L1230.8,996.3 L1234.8,996.6 L1238.8,996.3 L1242.8,996.7 L1246.8,996.4 L1250.8,996.8 L1254.8,996.5 L1258.8,996.8 L1262.8,996.5 L1266.8,996.9 L1270.8,996.6 L1274.8,997.0 L1278.8,996.7 L1282.8,996.9 L1286.8,996.7 L1290.8,997.1 L1294.8,996.7 L1298.8,997.1 L1302.8,996.7 L1306.8,997.1 L1310.8,996.9 L1314.8,997.2 L1318.8,996.9 L1322.8,997.3 L1326.8,996.9 L1330.8,997.3 L1334.8,997.1 L1338.8,997.3 L1342.8,997.0 L1346.8,997.5 L1350.8,997.1 L1354.8,997.4 L1358.8,997.2 L1362.8,997.6 L1366.8,997.2 L1370.8,997.5 L1374.8,997.3 L1378.8,997.7 L1382.8,997.4 L1386.8,997.6 L1390.8,997.4 L1394.8,997.8 L1398.8,997.4 L1402.8,997.7 L1406.8,997.6 L1410.8,997.8 L1414.8,997.6 L1418.8,997.9 L1422.8,997.7 L1426.8,997.9 L1430.8,997.7 L1434.8,998.1 L1438.8,997.7 L1442.8,998.0 L1446.8,997.7 L1450.8,998.0 L1454.8,997.8 L1458.8,998.2 L1462.8,997.8 L1466.8,998.2 L1470.8,997.9 L1474.8,998.2 L1478.8,997.9 L1482.8,998.2 L1486.8,998.0 L1490.8,998.3 L1494.8,998.1 L1498.8,998.3 L1502.8,998.0 L1506.8,998.4 L1510.8,998.1 L1514.8,998.5 L1518.8,998.2 L1522.8,998.4 L1526.8,998.2 L1530.8,998.5 L1534.8,998.2 L1538.8,998.6 L1542.8,998.3 L1546.8,998.6 L1550.8,998.2 L1554.8,998.6 L1558.8,998.4 L1562.8,998.7 L1566.8,998.3 L1570.8,998.7 L1574.8,998.3 L1578.8,998.8 L1582.8,998.4 L1586.8,998.7 L1590.8,998.4 L1594.8,998.7 L1598.8,998.4 L1602.8,998.7 L1606.8,998.5 L1610.8,998.8 L1614.8,998.5 L1618.8,998.8 L1622.8,998.6 L1626.8,998.8 L1630.8,998.6 L1634.8,998.9 L1638.8,998.6 L1642.8,998.9 L1646.8,998.5 L1650.8,998.9 L1654.8,998.6 L1658.8,999.0 L1662.8,998.6 L1666.8,998.9 L1670.8,998.6 L1674.8,998.9 L1678.8,998.7 L1682.8,998.9 L1686.8,998.6 L1690.8,999.1 L1694.8,998.7 L1698.8,998.9 L1702.8,998.7 L1706.8,999.0 L1710.8,998.7 L1714.8,999.0 L1718.8,998.7 L1722.8,999.1 L1726.8,998.7 L1730.8,999.0 L1734.8,998.7 L1738.8,999.0 L1742.8,998.7 L1746.8,999.0 L1750.8,998.7 L1754.8,999.0 L1758.8,998.7 L1762.8,999.0 L1766.8,998.8 L1770.8,999.0 L1774.8,998.8 L1778.8,999.0 L1782.8,998.8 L1786.8,999.1 L1790.8,998.8 L1794.8,999.1 L1798.8,998.8 L1802.8,999.0 L1806.8,998.7 L1810.8,999.2 L1814.8,998.8 L1818.8,999.0 L1822.8,998.7 L1826.8,999.1 L1830.8,998.8 L1834.8,999.0 L1838.8,998.7 L1842.8,999.1 L1846.8,998.8 L1850.8,999.1 L1854.8,998.8 L1858.8,999.0 L1862.8,998.7 L1866.8,999.1 L1870.8,998.8 L1874.8,999.1 L1878.8,998.7 L1882.8,999.1 L1886.8,998.8 L1890.8,999.1 L1894.8,998.8 L1898.8,999.1 L1902.8,998.8 L1906.8,999.1 L1910.8,998.8 L1914.8,999.0 L1918.8,998.8 L1922.8,999.0 L1926.8,998.8 L1930.8,998.9 L1934.8,998.7 L1938.8,999.0 L1942.8,998.8 L1946.8,999.0 L1950.8,998.7 L1954.8,999.0 L1958.8,998.7 L1962.8,999.0 L1966.8,998.7 L1970.8,999.0 L1974.8,998.6 L1978.8,998.9 L1982.8,998.6 L1986.8,999.0 L1990.8,998.6 L1994.8,998.9 L1998.8,998.6 L2002.8,998.9 L2006.8,998.7 L2010.8,998.8 L2014.8,998.5 L2018.8,998.9 L2022.8,998.6 L2026.8,998.8 L2030.8,998.6 L2034.8,998.8 L2038.8,998.5 L2042.8,998.8 L2046.8,998.6 L2050.8,998.9 L2054.8,998.5 L2058.8,998.8 L2062.8,998.5 L2066.8,998.8 L2070.8,998.5 L2074.8,998.8 L2078.8,998.4 L2082.8,998.8 L2086.8,998.4 L2090.8,998.7 L2094.8,998.4 L2095.0,998.6"/>
<path stroke="#006EE6" d="M150.0,688.0 L152.8,701.2 L155.6,690.4 L158.4,703.7 L161.2,691.4 L164.0,701.6 L166.8,694.8 L169.6,702.7 L172.4,696.2 L175.2,706.3 L178.0,700.4 L180.8,709.3 L183.6,701.6 L186.4,711.9 L189.2,702.0 L192.0,714.9 L194.8,706.7 L197.6,717.0 L200.4,706.7 L203.2,718.0 L206.0,708.5 L208.8,722.5 L211.6,713.7 L214.4,724.1 L217.2,713.9 L220.0,724.4 L222.8,717.0 L225.6,728.1 L228.4,720.4 L231.2,727.8 L234.0,716.8 L236.8,728.6 L239.6,717.3 L242.4,726.8 L244.0,719.0 L245.9,717.1 L247.4,715.1 L248.4,712.9 L249.2,710.6 L249.9,708.1 L250.4,705.5 L250.8,703.1 L251.2,700.6 L251.5,698.0 L251.8,695.5 L252.1,693.0 L252.4,690.5 L252.8,688.0 L253.1,685.5 L253.5,682.9 L253.8,680.4 L254.1,677.9 L254.4,675.4 L254.8,672.9 L255.1,670.4 L255.4,667.9 L255.7,665.3 L256.0,662.8 L256.2,660.3 L256.5,657.8 L256.8,655.3 L257.0,652.8 L257.2,650.2 L257.5,647.7 L257.7,645.2 L257.9,642.7 L258.1,640.1 L258.2,637.6 L258.3,635.1 L258.4,632.5 L258.5,630.0 L258.6,627.5 L258.7,624.9 L258.7,622.4 L258.8,619.9 L258.8,617.3 L258.9,614.8 L259.0,612.3 L259.0,609.7 L259.1,607.2 L259.2,604.7 L259.4,602.2 L259.5,599.6 L259.7,597.1 L259.9,594.6 L260.0,592.0 L260.1,589.5 L260.1,587.0 L260.2,584.4 L260.2,581.9 L260.2,579.4 L260.2,576.9 L260.3,574.3 L260.3,571.8 L260.3,569.3 L260.3,566.7 L260.3,564.2 L260.4,561.7 L260.4,559.1 L260.4,556.6 L260.4,554.1 L260.4,551.5 L260.4,549.0 L260.4,546.5 L260.4,543.9 L260.4,541.4 L260.4,538.9 L260.4,536.3 L260.5,533.8 L260.5,531.3 L260.5,528.7 L260.5,526.2 L260.5,523.6 L260.5,521.1 L260.5,518.6 L260.6,516.0 L260.6,513.5 L260.6,511.0 L260.6,508.4 L260.7,505.9 L260.7,503.4 L260.7,500.8 L260.8,498.3 L260.8,495.8 L260.9,493.3 L260.9,490.7 L260.9,488.2 L261.0,485.7 L261.0,483.1 L261.1,480.6 L261.1,478.1 L261.2,475.5 L261.2,473.0 L261.3,470.5 L261.3,467.9 L261.4,465.4 L261.4,462.9 L261.5,460.3 L261.5,457.8 L261.5,455.3 L261.6,452.7 L261.6,450.2 L261.6,447.7 L261.7,445.1 L261.7,442.6 L261.7,440.1 L261.8,437.5 L261.8,435.0 L261.8,432.5 L261.8,429.9 L261.9,427.4 L261.9,424.9 L261.9,422.3 L262.0,419.8 L262.0,417.3 L262.0,414.7 L262.0,412.2 L262.1,409.7 L262.1,407.1 L262.1,404.6 L262.2,402.1 L262.2,399.5 L262.2,397.0 L262.2,394.5 L262.3,391.9 L262.3,389.4 L262.3,386.9 L262.4,384.3 L262.4,381.8 L262.4,379.3 L262.5,376.7 L262.5,374.2 L262.6,376.7 L262.7,379.2 L262.8,381.8 L262.9,384.3 L263.0,386.8 L263.0,389.3 L263.1,391.9 L263.2,394.4 L263.2,396.9 L263.3,399.4 L263.4,402.0 L263.4,404.5 L263.5,407.0 L263.5,409.5 L263.6,412.1 L263.7,414.6 L263.7,417.1 L263.8,419.6 L263.8,422.2 L263.9,424.7 L263.9,427.2 L264.0,429.7 L264.0,432.2 L264.0,434.8 L264.1,437.3 L264.1,439.8 L264.1,442.3 L264.2,444.9 L264.2,447.4 L264.2,449.9 L264.2,452.4 L264.3,455.0 L264.3,457.5 L264.3,460.0 L264.3,462.5 L264.3,465.1 L264.3,467.6 L264.3,470.1 L264.3,472.6 L264.3,475.2 L264.3,477.7 L264.3,480.2 L264.3,482.7 L264.3,485.3 L264.3,487.8 L264.3,490.3 L264.3,492.8 L264.3,495.4 L264.3,497.9 L264.3,500.4 L264.3,502.9 L264.3,505.5 L264.3,508.0 L264.3,510.5 L264.3,513.0 L264.3,515.6 L264.3,518.1 L264.3,520.6 L264.3,523.1 L264.4,525.7 L264.4,528.2 L264.4,530.7 L264.4,533.2 L264.4,535.8 L264.4,538.3 L264.4,540.8 L264.4,543.3 L264.4,545.9 L264.4,548.4 L264.4,550.9 L264.4,553.4 L264.4,556.0 L264.4,558.5 L264.4,561.0 L264.4,563.5 L264.4,566.1 L264.4,568.6 L264.4,571.1 L264.4,573.6 L264.4,576.2 L264.4,578.7 L264.4,581.2 L264.4,583.7 L264.4,586.3 L264.4,588.8 L264.4,591.3 L264.4,593.8 L264.4,596.4 L264.4,598.9 L264.4,601.4 L264.4,603.9 L264.4,606.5 L264.5,609.0 L264.5,611.5 L264.5,614.0 L264.5,616.6 L264.5,619.1 L264.5,621.6 L264.5,624.1 L264.6,626.7 L264.6,629.2 L264.6,631.7 L264.6,634.2 L264.7,636.8 L264.7,639.3 L264.7,641.8 L264.7,644.3 L264.8,646.9 L264.8,649.4 L264.8,651.9 L264.8,654.4 L264.9,657.0 L264.9,659.5 L265.0,662.0 L265.0,664.5 L265.0,667.0 L265.1,669.6 L265.1,672.1 L265.2,674.6 L265.2,677.1 L265.3,679.7 L265.4,682.2 L265.5,684.7 L265.7,687.2 L265.8,689.8 L266.0,692.3 L266.1,694.8 L266.3,697.3 L266.6,699.8 L266.9,702.3 L267.2,704.8 L267.6,707.3 L267.9,709.9 L268.2,712.4 L268.7,714.8 L269.4,717.4 L270.3,719.7 L271.5,721.8 L273.5,723.8 L275.7,725.2 L277.9,724.9 L280.3,723.4 L281.8,721.5 L282.7,719.3 L283.4,716.7 L284.0,714.2 L284.5,711.7 L285.0,709.2 L285.4,706.7 L285.7,704.2 L285.9,701.7 L286.1,699.2 L286.5,696.7 L286.8,694.2 L287.1,691.7 L287.4,689.2 L287.7,686.7 L287.9,684.1 L288.1,681.6 L288.2,679.1 L288.4,676.6 L288.5,674.1 L288.7,671.5 L288.9,669.0 L289.0,666.5 L289.2,664.0 L289.3,661.5 L289.4,658.9 L289.6,656.4 L289.7,653.9 L289.8,651.4 L289.9,648.9 L289.9,646.3 L290.0,643.8 L290.1,641.3 L290.1,638.8 L290.2,636.2 L290.3,633.7 L290.4,631.2 L290.5,628.7 L290.6,626.1 L290.7,623.6 L290.8,621.1 L291.0,618.6 L291.2,616.1 L291.3,613.5 L291.4,611.0 L291.5,608.5 L291.7,611.0 L291.9,613.6 L292.0,616.1 L292.1,618.7 L292.2,621.2 L292.3,623.8 L292.4,626.3 L292.4,628.9 L292.5,631.4 L292.5,633.9 L292.6,636.5 L292.6,639.0 L292.7,641.6 L292.7,644.1 L292.8,646.7 L292.8,649.2 L292.9,651.8 L292.9,654.3 L292.9,656.9 L293.0,659.4 L293.0,662.0 L293.0,664.5 L293.1,667.1 L293.1,669.6 L293.1,672.2 L293.2,674.7 L293.2,677.3 L293.2,679.8 L293.2,682.4 L293.3,684.9 L293.3,687.5 L293.3,690.0 L293.3,692.6 L293.3,695.1 L293.4,697.7 L293.4,700.2 L293.4,702.8 L293.5,705.3 L293.5,707.8 L293.6,710.4 L293.7,712.9 L293.9,715.5 L294.1,718.0 L294.3,720.6 L294.5,723.2 L294.8,725.7 L295.4,728.1 L297.0,730.3 L299.0,731.5 L301.6,732.3 L304.1,732.5 L306.6,732.4 L309.2,731.9 L312.0,733.8 L314.8,728.7 L317.6,732.6 L320.4,729.1 L323.2,734.0 L326.0,730.2 L328.8,734.6 L331.6,731.5 L334.4,733.7 L337.2,733.3 L341.2,734.1 L345.2,734.0 L349.2,734.3 L353.2,734.1 L357.2,734.5 L361.2,734.1 L365.2,734.5 L369.2,734.2 L373.2,734.6 L377.2,734.3 L381.2,734.6 L385.2,734.3 L389.2,734.8 L393.2,734.3 L397.2,734.7 L401.2,734.4 L405.2,734.6 L409.2,734.3 L413.2,734.6 L417.2,734.1 L421.2,734.5 L425.2,734.1 L429.2,734.3 L433.2,733.7 L437.2,734.0 L441.2,733.6 L445.2,733.7 L449.2,733.3 L453.2,733.3 L457.2,732.8 L461.2,733.0 L465.2,732.5 L469.2,732.7 L473.2,732.0 L477.2,732.2 L481.2,731.6 L485.2,731.8 L489.2,731.2 L493.2,731.3 L497.2,730.7 L501.2,730.7 L505.2,730.1 L509.2,730.2 L513.2,729.5 L517.2,729.5 L521.2,729.0 L525.2,728.8 L529.2,728.1 L533.2,728.2 L537.2,727.3 L541.2,727.2 L545.2,726.4 L549.2,726.4 L553.2,725.5 L557.2,725.3 L561.2,724.5 L565.2,724.2 L569.2,723.4 L573.2,723.0 L577.2,722.1 L581.2,721.9 L585.2,721.0 L589.2,720.6 L593.2,719.7 L597.2,719.2 L601.2,718.2 L605.2,717.9 L609.2,716.7 L613.2,716.4 L617.2,715.5 L621.2,715.0 L625.2,713.9 L629.2,713.5 L633.2,712.2 L637.2,711.8 L641.2,710.7 L645.2,710.1 L649.2,709.1 L653.2,708.7 L657.2,708.0 L661.2,707.7 L665.2,707.2 L669.2,707.2 L673.2,706.7 L677.2,707.1 L681.2,706.9 L685.2,707.6 L689.2,707.7 L693.2,708.5 L697.2,708.9 L701.2,709.9 L705.2,710.4 L709.2,711.7 L713.2,712.5 L717.2,714.0 L721.2,714.8 L725.2,716.6 L729.2,717.6 L733.2,719.4 L737.2,720.5 L741.2,722.3 L745.2,723.3 L749.2,724.9 L753.2,725.8 L757.2,727.3 L761.2,728.0 L765.2,729.3 L769.2,730.1 L773.2,731.3 L777.2,731.6 L781.2,732.6 L785.2,733.0 L789.2,733.9 L793.2,734.1 L797.2,734.9 L801.2,734.9 L805.2,735.5 L809.2,735.6 L813.2,736.2 L817.2,736.0 L821.2,736.6 L825.2,736.5 L829.2,737.0 L833.2,736.8 L837.2,737.3 L841.2,737.1 L845.2,737.6 L849.2,737.5 L853.2,738.0 L857.2,737.7 L861.2,738.3 L865.2,738.0 L869.2,738.5 L873.2,738.4 L877.2,738.8 L881.2,738.5 L885.2,739.0 L889.2,738.8 L893.2,739.3 L897.2,738.9 L901.2,739.5 L905.2,739.2 L909.2,739.7 L913.2,739.5 L917.2,740.0 L921.2,739.7 L925.2,740.1 L929.2,739.8 L933.2,740.3 L937.2,739.9 L941.2,740.2 L945.2,740.1 L949.2,740.3 L953.2,740.0 L957.2,740.4 L961.2,740.0 L965.2,740.4 L969.2,740.1 L973.2,740.4 L977.2,739.9 L981.2,740.4 L985.2,740.0 L989.2,740.2 L993.2,739.9 L997.2,740.3 L1001.2,739.8 L1005.2,740.3 L1009.2,739.9 L1013.2,740.0 L1017.2,739.8 L1021.2,740.1 L1025.2,739.8 L1029.2,740.0 L1033.2,739.6 L1037.2,739.9 L1041.2,739.6 L1045.2,739.9 L1049.2,739.6 L1053.2,739.8 L1057.2,739.5 L1061.2,739.9 L1065.2,739.4 L1069.2,739.8 L1073.2,739.5 L1077.2,739.8 L1081.2,739.4 L1085.2,739.7 L1089.2,739.5 L1093.2,739.9 L1097.2,739.4 L1101.2,739.9 L1105.2,739.6 L1109.2,739.9 L1113.2,739.7 L1117.2,739.9 L1121.2,739.7 L1125.2,740.1 L1129.2,739.8 L1133.2,740.1 L1137.2,739.8 L1141.2,740.2 L1145.2,739.9 L1149.2,740.1 L1153.2,739.8 L1157.2,740.3 L1161.2,740.0 L1165.2,740.4 L1169.2,740.0 L1173.2,740.3 L1177.2,740.1 L1181.2,740.4 L1185.2,740.2 L1189.2,740.4 L1193.2,740.3 L1197.2,740.7 L1201.2,740.2 L1205.2,740.6 L1209.2,740.3 L1213.2,740.6 L1217.2,740.3 L1221.2,740.7 L1225.2,740.4 L1229.2,740.9 L1233.2,740.5 L1237.2,740.9 L1241.2,740.6 L1245.2,740.8 L1249.2,740.7 L1253.2,740.9 L1257.2,740.8 L1261.2,741.0 L1265.2,740.7 L1269.2,741.2 L1273.2,740.8 L1277.2,741.2 L1281.2,740.8 L1285.2,741.1 L1289.2,740.9 L1293.2,741.3 L1297.2,741.1 L1301.2,741.4 L1305.2,741.1 L1309.2,741.4 L1313.2,741.1 L1317.2,741.5 L1321.2,741.1 L1325.2,741.5 L1329.2,741.2 L1333.2,741.5 L1337.2,741.2 L1341.2,741.7 L1345.2,741.4 L1349.2,741.6 L1353.2,741.4 L1357.2,741.7 L1361.2,741.4 L1365.2,741.9 L1369.2,741.5 L1373.2,741.8 L1377.2,741.5 L1381.2,742.0 L1385.2,741.6 L1389.2,742.1 L1393.2,741.8 L1397.2,742.0 L1401.2,741.7 L1405.2,742.2 L1409.2,741.8 L1413.2,742.1 L1417.2,741.9 L1421.2,742.3 L1425.2,742.0 L1429.2,742.3 L1433.2,742.0 L1437.2,742.3 L1441.2,742.1 L1445.2,742.3 L1449.2,742.2 L1453.2,742.4 L1457.2,742.1 L1461.2,742.4 L1465.2,742.2 L1469.2,742.5 L1473.2,742.4 L1477.2,742.7 L1481.2,742.4 L1485.2,742.8 L1489.2,742.4 L1493.2,742.8 L1497.2,742.5 L1501.2,742.8 L1505.2,742.6 L1509.2,742.9 L1513.2,742.5 L1517.2,742.9 L1521.2,742.6 L1525.2,742.9 L1529.2,742.6 L1533.2,743.0 L1537.2,742.7 L1541.2,743.0 L1545.2,742.8 L1549.2,743.0 L1553.2,742.8 L1557.2,743.1 L1561.2,742.9 L1565.2,743.2 L1569.2,742.9 L1573.2,743.2 L1577.2,743.0 L1581.2,743.2 L1585.2,742.9 L1589.2,743.3 L1593.2,743.1 L1597.2,743.3 L1601.2,743.1 L1605.2,743.4 L1609.2,743.2 L1613.2,743.5 L1617.2,743.2 L1621.2,743.5 L1625.2,743.1 L1629.2,743.4 L1633.2,743.2 L1637.2,743.5 L1641.2,743.3 L1645.2,743.5 L1649.2,743.3 L1653.2,743.6 L1657.2,743.2 L1661.2,743.7 L1665.2,743.4 L1669.2,743.6 L1673.2,743.3 L1677.2,743.6 L1681.2,743.3 L1685.2,743.6 L1689.2,743.3 L1693.2,743.6 L1697.2,743.3 L1701.2,743.7 L1705.2,743.5 L1709.2,743.6 L1713.2,743.4 L1717.2,743.7 L1721.2,743.5 L1725.2,743.7 L1729.2,743.4 L1733.2,743.7 L1737.2,743.5 L1741.2,743.7 L1745.2,743.6 L1749.2,743.9 L1753.2,743.5 L1757.2,743.8 L1761.2,743.6 L1765.2,743.8 L1769.2,743.5 L1773.2,743.8 L1777.2,743.6 L1781.2,743.8 L1785.2,743.5 L1789.2,743.9 L1793.2,743.5 L1797.2,743.9 L1801.2,743.6 L1805.2,743.8 L1809.2,743.6 L1813.2,743.9 L1817.2,743.6 L1821.2,743.8 L1825.2,743.6 L1829.2,743.9 L1833.2,743.6 L1837.2,744.0 L1841.2,743.6 L1845.2,743.8 L1849.2,743.6 L1853.2,743.9 L1857.2,743.6 L1861.2,743.9 L1865.2,743.7 L1869.2,744.0 L1873.2,743.7 L1877.2,743.9 L1881.2,743.7 L1885.2,744.0 L1889.2,743.7 L1893.2,743.9 L1897.2,743.7 L1901.2,743.9 L1905.2,743.7 L1909.2,744.0 L1913.2,743.6 L1917.2,744.0 L1921.2,743.7 L1925.2,744.0 L1929.2,743.7 L1933.2,744.0 L1937.2,743.7 L1941.2,744.0 L1945.2,743.6 L1949.2,743.9 L1953.2,743.6 L1957.2,743.9 L1961.2,743.6 L1965.2,743.9 L1969.2,743.6 L1973.2,743.9 L1977.2,743.7 L1981.2,743.9 L1985.2,743.7 L1989.2,744.0 L1993.2,743.7 L1997.2,743.9 L2001.2,743.6 L2005.2,743.9 L2009.2,743.7 L2013.2,743.9 L2017.2,743.6 L2021.2,743.9 L2025.2,743.6 L2029.2,743.8 L2033.2,743.5 L2037.2,743.9 L2041.2,743.7 L2045.2,743.8 L2049.2,743.6 L2053.2,743.9 L2057.2,743.6 L2061.2,743.8 L2065.2,743.6 L2069.2,743.8 L2073.2,743.6 L2077.2,743.9 L2081.2,743.6 L2085.2,743.9 L2089.2,743.5 L2093.2,743.8 L2095.0,743.7"/>
<path stroke="#C373E2" d="M150.0,316.6 L152.8,327.6 L155.6,320.8 L158.4,328.4 L161.2,321.9 L164.0,331.3 L166.8,326.1 L169.6,335.2 L172.4,327.0 L175.2,334.9 L178.0,330.5 L180.8,336.3 L183.6,331.1 L186.4,339.6 L189.2,330.7 L192.0,340.2 L194.8,331.7 L197.6,341.0 L200.4,335.6 L203.2,341.1 L206.0,333.9 L208.8,343.8 L211.6,337.6 L214.4,343.3 L217.2,337.5 L220.0,344.2 L222.8,338.9 L225.6,344.3 L228.4,340.3 L231.2,346.6 L234.0,342.4 L236.8,345.9 L239.6,339.1 L242.4,346.1 L243.0,342.0 L245.3,340.6 L247.2,338.9 L248.6,337.0 L249.8,334.8 L250.8,332.3 L251.5,329.9 L252.1,327.4 L252.5,324.9 L252.9,322.4 L253.3,319.9 L253.8,317.3 L254.3,314.9 L254.8,312.4 L255.2,309.8 L255.7,307.3 L256.2,304.8 L256.6,302.3 L257.0,299.8 L257.4,297.3 L257.9,294.8 L258.3,292.3 L258.6,289.8 L258.9,287.2 L259.1,284.7 L259.3,282.2 L259.4,279.6 L259.5,277.1 L259.6,274.6 L259.7,272.0 L259.7,269.5 L259.8,266.9 L259.9,264.4 L259.9,261.8 L260.0,259.3 L260.0,256.7 L260.1,254.2 L260.2,251.6 L260.3,249.1 L260.4,246.6 L260.5,244.0 L260.6,241.5 L260.7,238.9 L260.9,236.4 L261.1,233.9 L261.3,231.3 L261.4,228.8 L261.6,226.2 L261.8,223.7 L261.9,221.2 L262.0,218.6 L262.1,216.1 L262.2,213.5 L262.3,211.0 L262.4,208.4 L262.5,205.9 L262.6,203.4 L262.6,200.8 L262.6,198.3 L262.6,195.7 L262.6,193.2 L262.6,190.6 L262.6,188.1 L262.6,185.5 L262.6,183.0 L262.6,180.4 L262.6,177.9 L262.6,175.4 L262.6,172.8 L262.6,170.3 L262.6,167.7 L262.6,165.2 L262.6,162.6 L262.7,160.1 L262.7,157.5 L262.8,155.0 L262.9,152.5 L262.9,149.9 L263.0,147.4 L263.1,144.8 L263.2,142.3 L263.3,139.7 L263.4,137.2 L263.4,134.7 L263.5,132.1 L263.6,129.6 L263.7,127.0 L263.7,124.5 L263.8,121.9 L263.8,119.4 L263.9,116.8 L263.9,114.3 L264.0,111.8 L264.0,109.2 L264.1,106.7 L264.1,104.1 L264.2,101.6 L264.2,99.0 L264.3,96.5 L264.3,93.9 L264.4,91.4 L264.4,88.9 L264.5,86.3 L264.5,83.8 L264.6,81.2 L264.6,78.7 L264.7,76.1 L264.7,73.6 L264.8,71.0 L264.8,68.5 L265.0,71.0 L265.2,73.5 L265.4,76.1 L265.5,78.6 L265.7,81.1 L265.8,83.7 L265.9,86.2 L266.0,88.7 L266.1,91.2 L266.2,93.8 L266.3,96.3 L266.3,98.8 L266.3,101.4 L266.3,103.9 L266.3,106.4 L266.3,109.0 L266.3,111.5 L266.3,114.0 L266.3,116.6 L266.3,119.1 L266.3,121.6 L266.3,124.1 L266.3,126.7 L266.3,129.2 L266.3,131.7 L266.3,134.3 L266.3,136.8 L266.3,139.3 L266.3,141.9 L266.3,144.4 L266.3,146.9 L266.3,149.5 L266.3,152.0 L266.3,154.5 L266.3,157.1 L266.3,159.6 L266.3,162.1 L266.3,164.7 L266.3,167.2 L266.3,169.7 L266.3,172.2 L266.3,174.8 L266.3,177.3 L266.3,179.8 L266.3,182.4 L266.3,184.9 L266.3,187.4 L266.3,190.0 L266.3,192.5 L266.3,195.0 L266.3,197.6 L266.3,200.1 L266.3,202.6 L266.3,205.2 L266.3,207.7 L266.3,210.2 L266.3,212.8 L266.3,215.3 L266.3,217.8 L266.3,220.3 L266.3,222.9 L266.4,225.4 L266.4,227.9 L266.4,230.5 L266.4,233.0 L266.5,235.5 L266.5,238.1 L266.5,240.6 L266.6,243.1 L266.6,245.7 L266.6,248.2 L266.7,250.7 L266.7,253.3 L266.7,255.8 L266.8,258.3 L266.8,260.8 L266.8,263.4 L266.9,265.9 L266.9,268.4 L266.9,271.0 L267.0,273.5 L267.0,276.0 L267.0,278.6 L267.1,281.1 L267.1,283.6 L267.1,286.2 L267.1,288.7 L267.2,291.2 L267.2,293.8 L267.2,296.3 L267.3,298.8 L267.3,301.4 L267.3,303.9 L267.4,306.4 L267.4,308.9 L267.5,311.5 L267.5,314.0 L267.6,316.5 L267.7,319.1 L267.9,321.6 L268.0,324.1 L268.2,326.6 L268.4,329.2 L268.6,331.7 L268.9,334.2 L269.3,336.7 L269.8,339.2 L270.7,341.8 L271.9,343.9 L273.8,345.4 L276.4,346.2 L278.8,345.6 L281.1,344.3 L282.6,342.6 L283.7,340.2 L284.6,337.7 L285.2,335.3 L285.8,332.8 L286.3,330.3 L286.9,327.8 L287.5,325.4 L288.0,322.9 L288.5,320.4 L289.0,317.9 L289.4,315.4 L289.8,312.9 L290.1,310.4 L290.5,307.9 L290.7,305.4 L291.0,302.9 L291.1,300.3 L291.3,297.8 L291.4,295.3 L291.6,292.8 L291.7,290.2 L291.8,287.7 L291.9,285.2 L292.0,282.6 L292.1,280.1 L292.2,277.6 L292.3,275.0 L292.4,272.5 L292.6,270.0 L292.7,267.5 L292.8,264.9 L292.9,262.4 L293.0,259.9 L293.1,257.3 L293.3,254.8 L293.4,252.3 L293.5,249.8 L293.7,247.2 L293.8,244.7 L294.0,247.3 L294.2,249.9 L294.3,252.5 L294.4,255.1 L294.6,257.7 L294.6,260.3 L294.7,262.9 L294.8,265.5 L294.9,268.1 L295.0,270.7 L295.0,273.3 L295.1,275.9 L295.2,278.5 L295.2,281.1 L295.3,283.7 L295.3,286.3 L295.4,288.9 L295.4,291.5 L295.5,294.1 L295.5,296.7 L295.6,299.3 L295.6,301.9 L295.6,304.5 L295.7,307.1 L295.7,309.7 L295.8,312.3 L295.8,314.9 L295.9,317.5 L295.9,320.1 L296.0,322.7 L296.0,325.3 L296.1,327.9 L296.2,330.5 L296.2,333.1 L296.4,335.8 L296.6,338.4 L297.0,340.9 L297.7,343.5 L298.9,345.8 L300.6,347.6 L302.9,349.0 L305.4,349.8 L308.0,350.2 L310.8,352.8 L313.6,347.7 L316.4,353.5 L319.2,347.8 L322.0,351.8 L324.8,348.6 L327.6,352.4 L330.4,349.2 L333.2,351.7 L336.0,350.7 L338.8,351.3 L342.8,350.9 L346.8,351.3 L350.8,351.1 L354.8,351.4 L358.8,351.1 L362.8,351.5 L366.8,351.2 L370.8,351.6 L374.8,351.3 L378.8,351.6 L382.8,351.2 L386.8,351.6 L390.8,351.3 L394.8,351.6 L398.8,351.3 L402.8,351.5 L406.8,351.3 L410.8,351.5 L414.8,351.2 L418.8,351.4 L422.8,351.1 L426.8,351.3 L430.8,351.0 L434.8,351.1 L438.8,350.6 L442.8,350.9 L446.8,350.4 L450.8,350.6 L454.8,350.1 L458.8,350.3 L462.8,349.7 L466.8,349.9 L470.8,349.3 L474.8,349.5 L478.8,349.0 L482.8,349.1 L486.8,348.7 L490.8,348.7 L494.8,348.2 L498.8,348.3 L502.8,347.9 L506.8,347.9 L510.8,347.3 L514.8,347.3 L518.8,346.8 L522.8,346.8 L526.8,346.2 L530.8,346.3 L534.8,345.6 L538.8,345.5 L542.8,344.8 L546.8,344.5 L550.8,343.7 L554.8,343.6 L558.8,342.9 L562.8,342.5 L566.8,341.7 L570.8,341.4 L574.8,340.5 L578.8,340.1 L582.8,339.1 L586.8,338.9 L590.8,337.9 L594.8,337.5 L598.8,336.5 L602.8,336.2 L606.8,335.1 L610.8,334.8 L614.8,333.6 L618.8,333.2 L622.8,332.1 L626.8,331.6 L630.8,330.3 L634.8,329.7 L638.8,328.4 L642.8,328.0 L646.8,326.7 L650.8,326.3 L654.8,325.4 L658.8,325.3 L662.8,324.7 L666.8,324.9 L670.8,324.4 L674.8,324.7 L678.8,324.3 L682.8,324.7 L686.8,324.7 L690.8,325.5 L694.8,325.7 L698.8,326.7 L702.8,327.2 L706.8,328.3 L710.8,328.9 L714.8,330.3 L718.8,331.3 L722.8,332.9 L726.8,333.8 L730.8,335.4 L734.8,336.3 L738.8,338.0 L742.8,338.9 L746.8,340.5 L750.8,341.5 L754.8,343.0 L758.8,344.1 L762.8,345.6 L766.8,346.5 L770.8,348.0 L774.8,348.9 L778.8,350.3 L782.8,350.8 L786.8,351.9 L790.8,351.9 L794.8,352.6 L798.8,352.7 L802.8,353.3 L806.8,353.1 L810.8,353.5 L814.8,353.4 L818.8,354.0 L822.8,353.8 L826.8,354.4 L830.8,354.3 L834.8,354.9 L838.8,354.7 L842.8,355.2 L846.8,355.0 L850.8,355.6 L854.8,355.4 L858.8,355.9 L862.8,355.7 L866.8,356.2 L870.8,355.9 L874.8,356.4 L878.8,356.2 L882.8,356.5 L886.8,356.3 L890.8,356.7 L894.8,356.5 L898.8,357.0 L902.8,356.6 L906.8,357.0 L910.8,356.8 L914.8,357.2 L918.8,356.8 L922.8,357.3 L926.8,357.0 L930.8,357.5 L934.8,357.2 L938.8,357.4 L942.8,357.1 L946.8,357.5 L950.8,357.2 L954.8,357.4 L958.8,357.1 L962.8,357.6 L966.8,357.2 L970.8,357.6 L974.8,357.1 L978.8,357.5 L982.8,357.3 L986.8,357.5 L990.8,357.2 L994.8,357.5 L998.8,357.3 L1002.8,357.5 L1006.8,357.2 L1010.8,357.5 L1014.8,357.2 L1018.8,357.6 L1022.8,357.1 L1026.8,357.3 L1030.8,357.1 L1034.8,357.4 L1038.8,357.0 L1042.8,357.3 L1046.8,357.0 L1050.8,357.1 L1054.8,356.7 L1058.8,357.1 L1062.8,356.7 L1066.8,356.9 L1070.8,356.6 L1074.8,356.9 L1078.8,356.6 L1082.8,356.9 L1086.8,356.5 L1090.8,356.9 L1094.8,356.4 L1098.8,356.7 L1102.8,356.5 L1106.8,356.7 L1110.8,356.4 L1114.8,356.8 L1118.8,356.6 L1122.8,356.8 L1126.8,356.6 L1130.8,357.0 L1134.8,356.7 L1138.8,357.1 L1142.8,356.9 L1146.8,357.1 L1150.8,356.9 L1154.8,357.3 L1158.8,357.0 L1162.8,357.4 L1166.8,357.2 L1170.8,357.5 L1174.8,357.4 L1178.8,357.8 L1182.8,357.5 L1186.8,357.9 L1190.8,357.7 L1194.8,358.0 L1198.8,357.9 L1202.8,358.2 L1206.8,357.9 L1210.8,358.4 L1214.8,358.0 L1218.8,358.4 L1222.8,358.1 L1226.8,358.3 L1230.8,358.0 L1234.8,358.5 L1238.8,358.2 L1242.8,358.6 L1246.8,358.2 L1250.8,358.6 L1254.8,358.3 L1258.8,358.7 L1262.8,358.4 L1266.8,358.8 L1270.8,358.5 L1274.8,358.8 L1278.8,358.5 L1282.8,358.8 L1286.8,358.6 L1290.8,359.0 L1294.8,358.6 L1298.8,359.0 L1302.8,358.7 L1306.8,359.0 L1310.8,358.8 L1314.8,359.0 L1318.8,358.7 L1322.8,359.1 L1326.8,358.8 L1330.8,359.1 L1334.8,358.9 L1338.8,359.2 L1342.8,359.0 L1346.8,359.2 L1350.8,359.1 L1354.8,359.4 L1358.8,359.1 L1362.8,359.4 L1366.8,359.2 L1370.8,359.4 L1374.8,359.2 L1378.8,359.4 L1382.8,359.2 L1386.8,359.5 L1390.8,359.3 L1394.8,359.6 L1398.8,359.4 L1402.8,359.6 L1406.8,359.3 L1410.8,359.7 L1414.8,359.4 L1418.8,359.8 L1422.8,359.4 L1426.8,359.8 L1430.8,359.6 L1434.8,359.9 L1438.8,359.6 L1442.8,360.0 L1446.8,359.7 L1450.8,360.0 L1454.8,359.7 L1458.8,360.0 L1462.8,359.7 L1466.8,360.0 L1470.8,359.8 L1474.8,360.1 L1478.8,359.8 L1482.8,360.2 L1486.8,359.9 L1490.8,360.2 L1494.8,359.9 L1498.8,360.2 L1502.8,359.9 L1506.8,360.2 L1510.8,360.0 L1514.8,360.4 L1518.8,360.1 L1522.8,360.4 L1526.8,360.1 L1530.8,360.5 L1534.8,360.1 L1538.8,360.4 L1542.8,360.2 L1546.8,360.4 L1550.8,360.3 L1554.8,360.6 L1558.8,360.3 L1562.8,360.6 L1566.8,360.4 L1570.8,360.6 L1574.8,360.4 L1578.8,360.7 L1582.8,360.4 L1586.8,360.6 L1590.8,360.4 L1594.8,360.7 L1598.8,360.5 L1602.8,360.8 L1606.8,360.5 L1610.8,360.8 L1614.8,360.4 L1618.8,360.8 L1622.8,360.5 L1626.8,360.9 L1630.8,360.6 L1634.8,360.8 L1638.8,360.6 L1642.8,360.9 L1646.8,360.6 L1650.8,360.9 L1654.8,360.6 L1658.8,360.9 L1662.8,360.6 L1666.8,360.9 L1670.8,360.6 L1674.8,360.9 L1678.8,360.6 L1682.8,360.9 L1686.8,360.7 L1690.8,361.1 L1694.8,360.7 L1698.8,361.0 L1702.8,360.8 L1706.8,360.9 L1710.8,360.8 L1714.8,361.0 L1718.8,360.8 L1722.8,361.0 L1726.8,360.8 L1730.8,361.0 L1734.8,360.7 L1738.8,361.0 L1742.8,360.7 L1746.8,361.1 L1750.8,360.7 L1754.8,361.0 L1758.8,360.8 L1762.8,361.1 L1766.8,360.8 L1770.8,361.0 L1774.8,360.7 L1778.8,361.1 L1782.8,360.8 L1786.8,361.0 L1790.8,360.7 L1794.8,361.1 L1798.8,360.9 L1802.8,361.0 L1806.8,360.9 L1810.8,361.1 L1814.8,360.8 L1818.8,361.2 L1822.8,360.7 L1826.8,361.0 L1830.8,360.8 L1834.8,361.1 L1838.8,360.7 L1842.8,361.1 L1846.8,360.8 L1850.8,361.0 L1854.8,360.7 L1858.8,361.1 L1862.8,360.7 L1866.8,361.1 L1870.8,360.7 L1874.8,361.1 L1878.8,360.7 L1882.8,361.0 L1886.8,360.8 L1890.8,361.1 L1894.8,360.8 L1898.8,361.0 L1902.8,360.7 L1906.8,361.0 L1910.8,360.7 L1914.8,360.9 L1918.8,360.7 L1922.8,361.1 L1926.8,360.7 L1930.8,361.0 L1934.8,360.6 L1938.8,361.0 L1942.8,360.7 L1946.8,360.9 L1950.8,360.7 L1954.8,360.9 L1958.8,360.7 L1962.8,360.9 L1966.8,360.7 L1970.8,360.9 L1974.8,360.6 L1978.8,360.9 L1982.8,360.6 L1986.8,360.9 L1990.8,360.6 L1994.8,360.9 L1998.8,360.5 L2002.8,360.8 L2006.8,360.6 L2010.8,360.9 L2014.8,360.6 L2018.8,360.8 L2022.8,360.5 L2026.8,360.9 L2030.8,360.5 L2034.8,360.8 L2038.8,360.5 L2042.8,360.8 L2046.8,360.5 L2050.8,360.8 L2054.8,360.4 L2058.8,360.8 L2062.8,360.5 L2066.8,360.7 L2070.8,360.4 L2074.8,360.7 L2078.8,360.5 L2082.8,360.6 L2086.8,360.4 L2090.8,360.7 L2094.8,360.4 L2095.0,360.5"/>
</g>
<g font-family="'Liberation Serif', 'Times New Roman', serif" font-weight="bold" style="font-kerning:none;font-variant-ligatures:none">
<text transform="translate(329.5 1561.5) scale(0.946 1)" font-size="79" fill="#000" text-anchor="middle">10</text>
<text transform="translate(581 1561.5) scale(0.946 1)" font-size="79" fill="#000" text-anchor="middle">20</text>
<text transform="translate(832.5 1561.5) scale(0.946 1)" font-size="79" fill="#000" text-anchor="middle">30</text>
<text transform="translate(1084 1561.5) scale(0.946 1)" font-size="79" fill="#000" text-anchor="middle">40</text>
<text transform="translate(1335.5 1561.5) scale(0.946 1)" font-size="79" fill="#000" text-anchor="middle">50</text>
<text transform="translate(1587 1561.5) scale(0.946 1)" font-size="79" fill="#000" text-anchor="middle">60</text>
<text transform="translate(1837.5 1561.5) scale(0.946 1)" font-size="79" fill="#000" text-anchor="middle">70</text>
<text transform="translate(2089.7 1561.5) scale(0.946 1)" font-size="79" fill="#000" text-anchor="middle">80</text>
<text transform="translate(94 755) rotate(-90) scale(1.018 1)" font-size="87" fill="#000" text-anchor="middle">Intensity(a.u.)</text>
<text transform="translate(1517 329) scale(0.978 1)" font-size="75.5" fill="#8F007F" text-anchor="start">MOF/CF-11</text>
<text transform="translate(1507 705.7) scale(0.981 1)" font-size="75.5" fill="#0000FF" text-anchor="start">MOF/CF-9</text>
<text transform="translate(1495 968.5) scale(0.983 1)" font-size="75.5" fill="#079307" text-anchor="start">MOF/CF-7</text>
<text transform="translate(1502 1234.7) scale(0.981 1)" font-size="75.5" fill="#FB3737" text-anchor="start">MOF/CF-5</text>
<text transform="translate(1505 1389.7) scale(0.982 1)" font-size="75.5" fill="#000" text-anchor="start">CF-COOH</text>
<text transform="translate(813 227.7) scale(0.982 1)" font-size="75.5" fill="#000" text-anchor="start">(002)</text>
<text transform="translate(288 432.7) scale(0.988 1)" font-size="75.5" fill="#000" text-anchor="start">(111)</text>
<text transform="translate(312 625.7) scale(0.982 1)" font-size="75.5" fill="#000" text-anchor="start">(002)</text>
<text transform="translate(1357.6 1666.5) scale(1.0056 1)" font-size="86" fill="#000" text-anchor="end">2<tspan dx="1.5">θ</tspan><tspan dx="3" font-weight="normal">(</tspan>degree<tspan font-weight="normal">)</tspan></text>
</g>
</svg>
</body></html>
